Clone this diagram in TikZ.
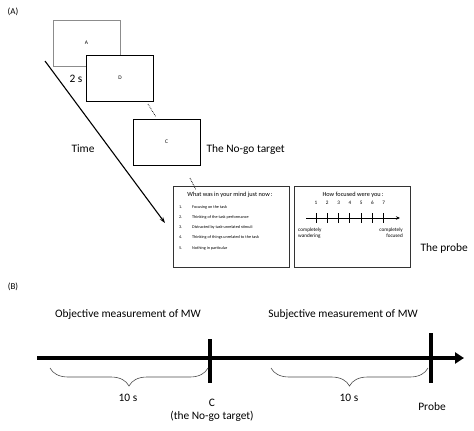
\documentclass[tikz,border=0pt]{standalone}
\usepackage{fontspec}
\setmainfont{Carlito}
\usetikzlibrary{arrows.meta,decorations.pathreplacing}

\tikzset{
  screen/.style={draw,fill=white,minimum width=67pt,minimum height=46pt,inner sep=0pt,font=\fontsize{5.5}{6}\selectfont},
  probebox/.style={draw=black!80,line width=0.8pt,minimum width=116pt,minimum height=81pt,inner sep=0pt},
  label/.style={font=\fontsize{11.4}{13}\selectfont},
  item/.style={anchor=west,inner sep=0pt,font=\fontsize{4.2}{5}\selectfont},
  small/.style={inner sep=0pt,font=\fontsize{5.2}{6}\selectfont},
  timeline/.style={line width=3.5pt},
  spanbrace/.style={decorate,decoration={brace,mirror,amplitude=18pt},black!70,line width=0.6pt}
}

\begin{document}
\begin{tikzpicture}[x=1pt,y=-1pt]
\useasboundingbox (0,0) rectangle (474,431);

% (A) sequence of screens
\node [font=\fontsize{9}{10}\selectfont] (partA) at (13,12) {(A)};
\node [screen,draw=black!45] (frameA) at (86.5,43) {A};
\node [screen] (frameD) at (120,78) {D};
\node [screen] (frameC) at (166.5,142) {C};
\node [label] (twos) at (76,79) {2 s};
\node [label,anchor=west] (nogo) at (203,150) {The No-go target};
\node [label] (time) at (83,149) {Time};
\coordinate (tstart) at (45,61);
\coordinate (tend) at (165,223);
\draw [line width=1.1pt,-{Stealth[length=6pt,width=4pt]}] (tstart) -- (tend);
\coordinate (dot1a) at (148,104);
\coordinate (dot1b) at (156,117);
\coordinate (dot2a) at (190,178);
\coordinate (dot2b) at (196,190);
\draw [densely dotted,line width=0.7pt] (dot1a) -- (dot1b);
\draw [densely dotted,line width=0.7pt] (dot2a) -- (dot2b);

% the probe
\node [probebox] (mind) at (231,226.5) {};
\node [probebox] (focus) at (352,226.5) {};
\node [label,anchor=west] (probe) at (417,248) {The probe};
\node [small,font=\fontsize{6.3}{7}\selectfont] (mindq) at (230,195) {What was in your mind just now\,:};
\node [item] (n1) at (179,207) {1.};
\node [item] (n2) at (179,217) {2.};
\node [item] (n3) at (179,227) {3.};
\node [item] (n4) at (179,237) {4.};
\node [item] (n5) at (179,248) {5.};
\node [item] (i1) at (192,207) {Focusing on the task};
\node [item] (i2) at (192,217) {Thinking of the task performance};
\node [item] (i3) at (192,227) {Distracted by task-unrelated stimuli};
\node [item] (i4) at (192,237) {Thinking of things unrelated to the task};
\node [item] (i5) at (192,248) {Nothing in particular};
\node [small,font=\fontsize{6.3}{7}\selectfont] (focusq) at (353,195) {How focused were you\,:};
\coordinate (sstart) at (306,218);
\coordinate (send) at (400,218);
\draw [line width=0.9pt,-{Stealth[length=4pt,width=3.5pt]}] (sstart) -- (send);
\foreach \n in {1,...,7} {
  \node [small] (num\n) at (304.7+11.3*\n,203) {\n};
  \draw [line width=1pt] (304.7+11.3*\n,213) -- (304.7+11.3*\n,223);
}
\node [small,align=left,anchor=north west] (wander) at (298,228) {completely\\wandering};
\node [small,align=right,anchor=north east] (focused) at (403,228) {completely\\focused};

% (B) time line
\node [font=\fontsize{9}{10}\selectfont] (partB) at (13,287) {(B)};
\node [label] (objective) at (128,315) {Objective measurement of MW};
\node [label] (subjective) at (343,315) {Subjective measurement of MW};
\coordinate (lstart) at (37,358);
\coordinate (lend) at (464,358);
\draw [timeline,-{Triangle[length=9pt,width=11pt]}] (lstart) -- (lend);
\coordinate (cTop) at (210,339);
\coordinate (cBot) at (210,383);
\coordinate (pTop) at (431,333);
\coordinate (pBot) at (431,383);
\draw [timeline] (cTop) -- (cBot);
\draw [timeline] (pTop) -- (pBot);
\coordinate (b1a) at (50,368);
\coordinate (b1b) at (208,368);
\coordinate (b2a) at (271,368);
\coordinate (b2b) at (428,368);
\draw [spanbrace] (b1a) -- (b1b);
\draw [spanbrace] (b2a) -- (b2b);
\node [label] (tenA) at (128,398) {10 s};
\node [label] (tenB) at (349,398) {10 s};
\node [label,align=center] (cmark) at (212,410) {C\\(the No-go target)};
\node [label] (probemark) at (432,407) {Probe};
\end{tikzpicture}
\end{document}
